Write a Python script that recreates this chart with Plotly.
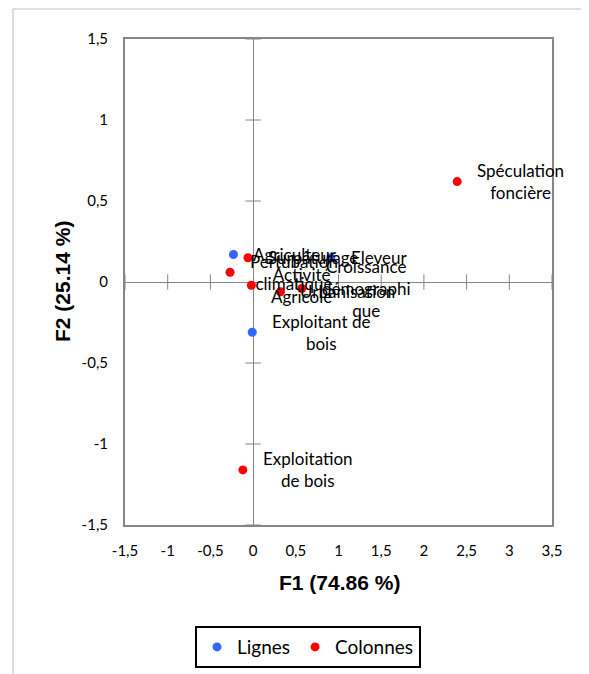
import plotly.graph_objects as go

# Analyse factorielle des correspondances - coordonnées F1 / F2
lignes_noms = ["Agriculteur", "Eleveur", "Exploitant de<br>bois"]
lignes_f1 = [-0.23, 0.91, -0.01]
lignes_f2 = [0.17, 0.15, -0.31]

colonnes_noms = [
    "Surpâturage",
    "Pertubation<br>climatique",
    "Activité<br>Agricole",
    "Urbanisation",
    "Croissance<br>démographi<br>que",
    "Spéculation<br>foncière",
    "Exploitation<br>de bois",
]
colonnes_f1 = [-0.06, -0.27, -0.02, 0.32, 0.57, 2.39, -0.12]
colonnes_f2 = [0.15, 0.06, -0.02, -0.06, -0.04, 0.62, -1.16]

x_ticks = [-1.5, -1, -0.5, 0, 0.5, 1, 1.5, 2, 2.5, 3, 3.5]
x_ticktext = ["-1,5", "-1", "-0,5", "0", "0,5", "1", "1,5", "2", "2,5", "3", "3,5"]
y_ticks = [-1.5, -1, -0.5, 0, 0.5, 1, 1.5]
y_ticktext = ["-1,5", "-1", "-0,5", "0", "0,5", "1", "1,5"]

GRIS = "#868686"
BLEU = "#3366FF"
ROUGE = "#FF0000"
POLICE = "Lato"

fig = go.Figure()

# petites graduations en croix sur les axes passant par zéro
fig.add_trace(
    go.Scatter(
        x=[v for v in x_ticks if v != 0],
        y=[0] * (len(x_ticks) - 1),
        mode="markers",
        marker=dict(symbol="line-ns", size=11, line=dict(color=GRIS, width=1)),
        hoverinfo="skip",
        showlegend=False,
    )
)
fig.add_trace(
    go.Scatter(
        x=[0] * (len(y_ticks) - 1),
        y=[v for v in y_ticks if v != 0],
        mode="markers",
        marker=dict(symbol="line-ew", size=11, line=dict(color=GRIS, width=1)),
        hoverinfo="skip",
        showlegend=False,
    )
)

fig.add_trace(
    go.Scatter(
        x=lignes_f1,
        y=lignes_f2,
        mode="markers",
        marker=dict(color=BLEU, size=9),
        name="Lignes",
    )
)
fig.add_trace(
    go.Scatter(
        x=colonnes_f1,
        y=colonnes_f2,
        mode="markers",
        marker=dict(color=ROUGE, size=9),
        name="Colonnes",
    )
)

# étiquettes des points (centrées, à droite du point)
for noms, xs, ys in [
    (lignes_noms, lignes_f1, lignes_f2),
    (colonnes_noms, colonnes_f1, colonnes_f2),
]:
    for nom, xv, yv in zip(noms, xs, ys):
        fig.add_annotation(
            x=xv,
            y=yv,
            text=nom,
            showarrow=False,
            xanchor="left",
            yanchor="middle",
            xshift=18,
            align="center",
            font=dict(family=POLICE, size=17, color="black"),
        )

# titres des axes
fig.add_annotation(
    text="<b>F1 (74.86 %)</b>",
    xref="paper",
    yref="paper",
    x=0.503,
    y=-0.119,
    xanchor="center",
    yanchor="middle",
    showarrow=False,
    font=dict(family="Liberation Sans", size=21, color="black"),
)
fig.add_annotation(
    text="<b>F2 (25.14 %)</b>",
    xref="paper",
    yref="paper",
    x=-0.1475,
    y=0.5,
    xanchor="center",
    yanchor="middle",
    textangle=-90,
    showarrow=False,
    font=dict(family="Liberation Sans", size=21, color="black"),
)

# cadre de la zone de graphique (recadrée)
for x0, y0, x1, y1 in [
    (-0.2623, 1.0617, -0.2623, -0.4),
    (-0.2623, 1.0617, 1.2, 1.0617),
]:
    fig.add_shape(
        type="line",
        xref="paper",
        yref="paper",
        x0=x0,
        y0=y0,
        x1=x1,
        y1=y1,
        line=dict(color="#BFBFBF", width=1),
    )

axe_commun = dict(
    showgrid=False,
    zeroline=True,
    zerolinecolor=GRIS,
    zerolinewidth=1,
    showline=True,
    linecolor=GRIS,
    linewidth=2,
    mirror=True,
    ticks="",
    tickfont=dict(family=POLICE, size=15, color="black"),
)

fig.update_layout(
    width=573,
    height=666,
    plot_bgcolor="white",
    paper_bgcolor="white",
    margin=dict(l=117, r=29, t=31, b=149, autoexpand=False),
    xaxis=dict(
        range=[-1.5, 3.5],
        tickvals=x_ticks,
        ticktext=x_ticktext,
        ticklabelstandoff=11,
        **axe_commun,
    ),
    yaxis=dict(
        range=[-1.5, 1.5],
        tickvals=y_ticks,
        ticktext=y_ticktext,
        ticklabelstandoff=12,
        **axe_commun,
    ),
    legend=dict(
        orientation="h",
        x=0.164,
        xanchor="left",
        y=-0.208,
        yanchor="top",
        bordercolor="black",
        borderwidth=2,
        font=dict(family=POLICE, size=19, color="black"),
    ),
    showlegend=True,
)

fig.write_html("out.html")
